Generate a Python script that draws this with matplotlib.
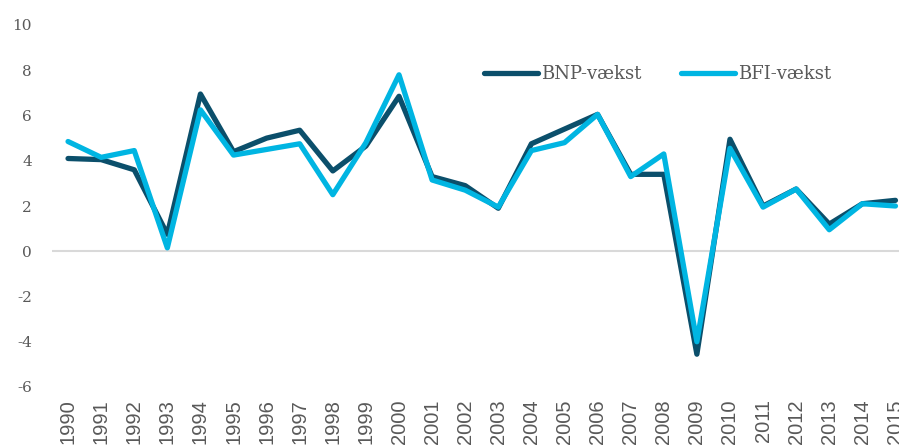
import matplotlib
matplotlib.use("Agg")
import matplotlib.pyplot as plt

years = list(range(1990, 2016))
bnp = [4.1, 4.05, 3.6, 0.75, 6.95, 4.4, 5.0, 5.35, 3.55, 4.65, 6.85, 3.3, 2.9, 1.9,
       4.75, 5.4, 6.05, 3.4, 3.4, -4.55, 4.95, 2.0, 2.75, 1.2, 2.1, 2.25]
bfi = [4.85, 4.15, 4.45, 0.15, 6.25, 4.25, 4.5, 4.75, 2.5, 4.8, 7.8, 3.15, 2.7, 1.95,
       4.45, 4.8, 6.05, 3.3, 4.3, -4.0, 4.55, 1.95, 2.75, 0.95, 2.1, 2.0]
yticks = [-6, -4, -2, 0, 2, 4, 6, 8, 10]

dark = "#0B4F6B"
light = "#00B5E2"
txt = "#595959"

fig = plt.figure(figsize=(8.99, 4.46), dpi=100)
ax = fig.add_axes([51.5/899, 59/446, (912-51.5)/899, 362/446])

ax.axhline(0, color="#D9D9D9", lw=1.5, zorder=1)
ax.plot(years, bnp, color=dark, lw=3.8, solid_capstyle="round", solid_joinstyle="round",
        label="BNP-vækst", zorder=2)
ax.plot(years, bfi, color=light, lw=3.8, solid_capstyle="round", solid_joinstyle="round",
        label="BFI-vækst", zorder=3)

ax.set_xlim(1989.5, 2015.5)
ax.set_ylim(-6, 10)
ax.set_yticks(yticks)
ax.set_yticklabels([str(v) for v in yticks], family="DejaVu Serif", fontsize=11, color=txt)
ax.set_xticks(years)
ax.set_xticklabels([str(y) for y in years], rotation=90, family="Liberation Sans",
                   fontsize=14.5, color=txt)
ax.tick_params(axis="both", length=0)
ax.tick_params(axis="y", pad=14)
ax.tick_params(axis="x", pad=9)
for s in ax.spines.values():
    s.set_visible(False)

leg = ax.legend(loc="upper left", bbox_to_anchor=(468/899, 1 - 49/446), bbox_transform=fig.transFigure,
                ncol=2, frameon=False, handlelength=3.0, handletextpad=0.15, columnspacing=2.2,
                prop={"family": "DejaVu Serif", "size": 13})
for t in leg.get_texts():
    t.set_color(txt)

fig.savefig("out.png", dpi=100)
